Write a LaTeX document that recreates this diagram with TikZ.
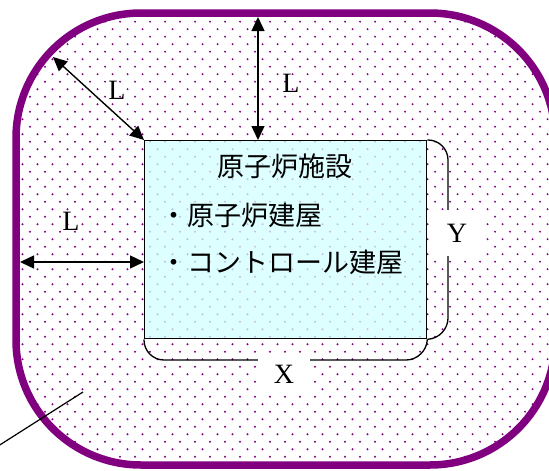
\documentclass[tikz,border=0pt]{standalone}
\usepackage{fontspec}
\setmainfont{Liberation Serif}
\newfontfamily\jpfont{Noto Sans CJK JP}
\usetikzlibrary{arrows.meta}
\definecolor{wall}{RGB}{128,0,128}
\definecolor{bldg}{RGB}{212,255,255}
\begin{document}
\begin{tikzpicture}[x=1pt,y=-1pt,
  dimarrow/.style={{Triangle[length=14pt,width=13pt]}-{Triangle[length=14pt,width=13pt]}, line width=1.4pt},
  bracket/.style={line width=1.3pt, rounded corners=20pt},
  lbl/.style={font=\fontsize{28}{30}\selectfont, inner sep=0pt},
  jptext/.style={font=\jpfont\fontsize{27}{30}\selectfont, inner sep=0pt},
  whitebox/.style={fill=white, inner sep=0pt},
  dot/.style={fill=wall}
]
\useasboundingbox (0,0) rectangle (549,471);
% site area with dots
\fill[white, rounded corners=125pt] (16,13) rectangle (555,465);
\begin{scope}
  \clip[rounded corners=125pt] (16,13) rectangle (555,465);
  \foreach \j in {0,...,62}{
    \pgfmathsetmacro{\yy}{6.7+7.5*\j}
    \pgfmathsetmacro{\xo}{mod(\j,2)*7.5}
    \foreach \i in {0,...,37}{
      \fill[dot] (\xo+15*\i,\yy) circle (1.05pt);
    }
  }
\end{scope}
\draw[wall, line width=7.5pt, rounded corners=125pt] (16,13) rectangle (555,465);

% building
\node[draw, line width=1.3pt, fill=bldg, fill opacity=0.75, minimum width=282pt, minimum height=198pt, anchor=north west, inner sep=0pt] (bldg) at (144,140) {};
\node[jptext] (title) at (285,166) {原子炉施設};
\node[jptext, anchor=west] (item1) at (160,215) {・原子炉建屋};
\node[jptext, anchor=west] (item2) at (160,262) {・コントロール建屋};

% dimension labels
\node[whitebox, lbl, minimum width=51pt, minimum height=46pt] (ylab) at (457,233) {Y};
\node[whitebox, lbl, minimum width=52pt, minimum height=34pt] (xlab) at (284,374) {X};

\coordinate (yc1) at (448,140);
\coordinate (yc2) at (448,338);
\coordinate (xc1) at (144,360);
\coordinate (xc2) at (426,360);
\draw[bracket] (bldg.north east) -- (yc1) -- (yc1 |- ylab.north);
\draw[bracket] (yc2 |- ylab.south) -- (yc2) -- (bldg.south east);
\draw[bracket] (bldg.south west) -- (xc1) -- (xc1 -| xlab.west);
\draw[bracket] (xc2 -| xlab.east) -- (xc2) -- (bldg.south east);

% L arrows
\coordinate (topin) at (258,17);
\coordinate (diagin) at (53,57);
\coordinate (leftin) at (20,262);
\coordinate (topb) at (258,140);
\coordinate (leftb) at (144,262);
\draw[dimarrow] (topin) -- (topb);
\draw[dimarrow] (diagin) -- (bldg.north west);
\draw[dimarrow] (leftin) -- (leftb);
\node[lbl] (l1) at (291,83) {L};
\node[lbl] (l2) at (117,90) {L};
\node[lbl] (l3) at (71,221) {L};

% leader line
\coordinate (lead0) at (-5,448);
\coordinate (lead1) at (83,392);
\draw[line width=1.2pt] (lead0) -- (lead1);
\end{tikzpicture}
\end{document}
